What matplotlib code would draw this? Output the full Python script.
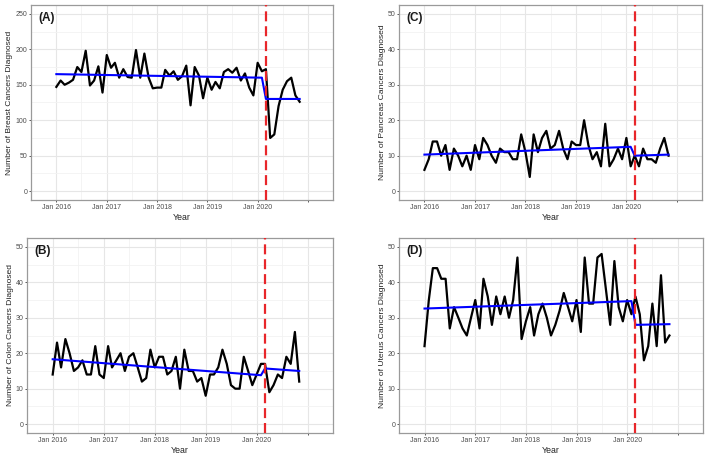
import numpy as np
import pandas as pd
import matplotlib
matplotlib.use("Agg")
import matplotlib.pyplot as plt

plt.rcParams['font.family'] = ['Liberation Sans', 'DejaVu Sans']

# monthly counts, Jan 2016 - Nov 2020
months = pd.date_range("2016-01-01", periods=59, freq="MS")

breast = [147, 156, 150, 153, 157, 175, 168, 198, 149, 156, 176, 139,
          192, 174, 181, 160, 172, 161, 160, 199, 160, 194, 160, 145,
          146, 146, 171, 163, 169, 157, 162, 177, 121, 175, 163, 131,
          160, 143, 154, 145, 168, 172, 167, 174, 156, 166, 146, 135,
          181, 169, 172, 75, 80, 120, 143, 155, 160, 135, 126]

colon = [14, 23, 16, 24, 20, 15, 16, 18, 14, 14, 22, 14,
         13, 22, 16, 18, 20, 15, 19, 20, 16, 12, 13, 21,
         16, 19, 19, 14, 15, 19, 10, 21, 15, 15, 12, 13,
         8, 14, 14, 16, 21, 17, 11, 10, 10, 19, 15, 11,
         14, 17, 17, 9, 11, 14, 13, 19, 17, 26, 12]

pancreas = [6, 9, 14, 14, 10, 13, 6, 12, 10, 7, 10, 6,
            13, 9, 15, 13, 10, 8, 12, 11, 11, 9, 9, 16,
            11, 4, 16, 11, 15, 17, 12, 13, 17, 12, 9, 14,
            13, 13, 20, 13, 9, 11, 7, 19, 7, 9, 12, 9,
            15, 7, 10, 7, 12, 9, 9, 8, 12, 15, 10]

uterus = [22, 35, 44, 44, 41, 41, 27, 33, 30, 27, 25, 30,
          35, 27, 41, 36, 28, 36, 31, 36, 30, 35, 47, 24,
          29, 33, 25, 31, 34, 30, 25, 28, 32, 37, 33, 29,
          35, 26, 47, 34, 34, 47, 48, 38, 28, 46, 33, 29,
          35, 31, 36, 31, 18, 22, 34, 22, 42, 23, 25]

# segmented regression: value at Jan 2016, Feb 2020, Mar 2020, Nov 2020
breast_fit = [165, 160, 130, 130]
colon_fit = [18.3, 13.8, 15.7, 15.0]
pancreas_fit = [10.3, 12.5, 10.0, 10.3]
uterus_fit = [32.6, 34.7, 28.0, 28.2]
fit_dates = pd.to_datetime(["2016-01-01", "2020-02-01", "2020-03-01", "2020-11-01"])

lockdown = pd.Timestamp("2020-03-01")

tick_dates = pd.date_range("2016-01-01", periods=6, freq="YS")
tick_labels = ["Jan 2016", "Jan 2017", "Jan 2018", "Jan 2019", "Jan 2020", ""]
minor_dates = pd.date_range("2015-07-01", periods=7, freq="12MS")

W, H = 709, 458
fig = plt.figure(figsize=(W / 100, H / 100), dpi=100)


def panel(box, label_x, series, fit, tag, ylabel, ytop, ystep):
    l, t, r, b = box
    ax = fig.add_axes([l / W, 1 - b / H, (r - l) / W, (b - t) / H])
    ax.set_axisbelow(True)
    ax.plot(months, series, color="black", lw=1.6, zorder=3)
    ax.plot(fit_dates, fit, color="#0000ff", lw=1.5, zorder=4)
    ax.axvline(lockdown, color="#e8262a", lw=1.6, ls=(0, (4.5, 2.2)), zorder=5)

    span = months[-1] - months[0]
    ax.set_xlim(months[0] - span * 0.05, months[-1] + span * 0.05)
    ax.set_ylim(-ytop * 0.05, ytop * 1.05)
    ax.set_xticks(tick_dates)
    ax.set_xticklabels(tick_labels)
    ax.set_xticks(minor_dates, minor=True)
    ax.set_yticks(np.arange(0, ytop + 1, ystep))
    ax.set_yticks(np.arange(ystep / 2, ytop, ystep), minor=True)

    ax.grid(True, which="major", color="#e6e6e6", lw=0.8)
    ax.grid(True, which="minor", color="#f2f2f2", lw=0.6)
    ax.tick_params(which="major", length=1.6, width=0.7, color="#555555",
                   labelsize=5, labelcolor="#4d4d4d", pad=1)
    ax.tick_params(axis="x", which="major", pad=1.6)
    ax.tick_params(which="minor", length=0)
    for s in ax.spines.values():
        s.set_color("#9a9a9a")
        s.set_linewidth(0.9)

    ax.set_xlabel("Year", fontsize=6.3, color="#222222", labelpad=1.2)
    ax.set_ylabel(ylabel, fontsize=6.1, color="#222222")
    # right edge of the rotated label, in figure pixels
    ax.yaxis.set_label_coords((label_x - l) / (r - l), 0.5)
    ax.text(0.025, 0.965, tag, transform=ax.transAxes, ha="left", va="top",
            fontsize=8.5, fontweight="bold", color="#1a1a1a")
    return ax


panel((31, 5, 333, 200), 13.5, breast, breast_fit, "(A)",
      "Number of Breast Cancers Diagnosed", 250, 50)
panel((399, 5, 702, 200), 386, pancreas, pancreas_fit, "(C)",
      "Number of Pancreas Cancers Diagnosed", 50, 10)
panel((27, 238, 333, 433), 13.5, colon, colon_fit, "(B)",
      "Number of Colon Cancers Diagnosed", 50, 10)
panel((399, 238, 703, 433), 386, uterus, uterus_fit, "(D)",
      "Number of Uterus Cancers Diagnosed", 50, 10)

fig.savefig("out.png", dpi=100)
